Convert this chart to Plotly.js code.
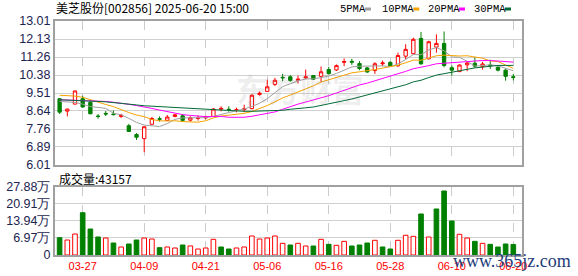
<!DOCTYPE html>
<html><head><meta charset="utf-8">
<script src="https://cdn.plot.ly/plotly-3.0.1.min.js"></script>
<style>html,body{margin:0;padding:0;background:#fff}#c{width:578px;height:276px}</style>
</head><body><div id="c"></div>
<script>
const dates = ["03-24","03-25","03-26","03-27","03-28","03-31","04-01","04-02","04-03","04-07","04-08","04-09","04-10","04-11","04-14","04-15","04-16","04-17","04-18","04-21","04-22","04-23","04-24","04-25","04-28","04-29","04-30","05-06","05-07","05-08","05-09","05-12","05-13","05-14","05-15","05-16","05-19","05-20","05-21","05-22","05-23","05-26","05-27","05-28","05-29","05-30","06-03","06-04","06-05","06-06","06-09","06-10","06-11","06-12","06-13","06-16","06-17","06-18","06-19","06-20"];
const openP = [9.23,8.63,8.97,9.23,9.05,8.39,8.52,8.49,8.37,7.92,7.49,7.29,7.99,8.26,8.18,8.37,8.40,8.19,8.27,8.30,8.37,8.72,8.72,8.67,8.70,8.75,9.44,9.59,9.93,10.27,10.30,10.13,10.25,10.36,10.32,10.65,10.63,11.00,11.05,10.94,10.73,10.60,10.93,11.00,10.83,11.30,11.42,12.16,11.17,11.74,11.92,10.74,10.55,10.88,10.96,10.79,10.87,10.76,10.62,10.30];
const highP = [9.27,8.74,9.62,9.38,9.15,8.49,8.63,8.66,8.50,8.01,7.56,7.88,8.35,8.37,8.44,8.49,8.49,8.38,8.42,8.40,8.78,8.86,8.86,8.80,8.94,9.45,9.58,10.16,10.24,10.44,10.38,10.36,10.65,10.38,10.80,10.78,10.90,11.19,11.17,11.06,10.78,11.01,11.09,11.05,11.47,11.88,12.20,12.48,12.05,12.36,12.50,10.85,10.90,11.04,11.25,11.03,11.13,10.82,10.68,10.44];
const lowP = [8.49,8.37,8.96,8.79,8.48,8.26,8.39,8.42,8.30,7.63,7.23,6.63,7.97,8.12,8.16,8.33,8.11,8.12,8.17,8.23,8.36,8.62,8.60,8.57,8.58,8.72,9.38,9.57,9.85,10.08,10.06,9.97,10.18,10.15,10.05,10.40,10.58,10.81,10.88,10.62,10.49,10.44,10.82,10.80,10.78,11.15,11.38,10.88,11.15,11.47,10.76,10.35,10.53,10.57,10.73,10.65,10.68,10.56,10.11,10.12];
const closeP = [8.58,8.73,9.61,8.83,8.50,8.37,8.49,8.46,8.43,7.64,7.36,7.87,8.27,8.24,8.34,8.45,8.18,8.31,8.29,8.34,8.73,8.76,8.70,8.70,8.74,9.40,9.50,9.81,10.13,10.25,10.12,10.18,10.29,10.18,10.54,10.45,10.84,11.04,11.01,10.70,10.53,10.93,10.97,10.84,11.33,11.63,12.12,10.93,12.00,11.92,10.85,10.62,10.87,10.97,10.81,10.92,10.84,10.62,10.32,10.27];
const volume = [70600,61200,85700,172700,106000,73500,69400,49000,32700,44900,61200,69400,65300,29900,32700,28600,40800,37000,24500,28600,64000,32700,24500,28600,32700,77600,65300,69400,77600,47600,40800,47600,36700,36700,64000,43500,39500,55800,36700,40800,49000,60000,32700,24500,60000,80400,76200,167400,73500,187800,261300,138800,84400,69400,55800,47600,43500,32700,44900,43157];
const volUp = [0,1,1,0,0,0,1,0,1,0,0,1,1,0,1,1,0,1,1,1,1,0,0,1,1,1,1,1,1,1,0,1,1,0,1,0,1,1,0,0,0,1,0,0,1,1,1,0,1,0,0,0,1,1,0,1,0,0,0,0];
const ma5 = [9.10,9.07,9.05,8.97,8.85,8.81,8.76,8.53,8.45,8.28,8.08,7.95,7.91,7.88,8.02,8.23,8.30,8.30,8.31,8.31,8.37,8.48,8.56,8.65,8.73,8.86,9.01,9.23,9.52,9.82,9.96,10.10,10.19,10.20,10.26,10.33,10.46,10.61,10.78,10.81,10.82,10.84,10.83,10.79,10.92,11.14,11.38,11.37,11.60,11.72,11.56,11.26,11.25,11.05,10.82,10.84,10.88,10.83,10.70,10.59];
const ma10 = [9.40,9.38,9.36,9.30,9.18,9.05,8.95,8.85,8.70,8.56,8.44,8.36,8.22,8.16,8.15,8.16,8.12,8.11,8.09,8.16,8.30,8.39,8.43,8.48,8.52,8.61,8.75,8.90,9.08,9.27,9.41,9.55,9.71,9.86,10.04,10.15,10.28,10.40,10.49,10.54,10.58,10.65,10.72,10.79,10.86,10.98,11.11,11.10,11.20,11.32,11.35,11.32,11.31,11.32,11.27,11.20,11.07,11.04,10.87,10.71];
const ma20 = [9.18,9.17,9.16,9.16,9.15,9.14,9.10,9.06,9.02,8.96,8.90,8.84,8.76,8.68,8.60,8.52,8.46,8.42,8.38,8.36,8.37,8.37,8.33,8.32,8.33,8.38,8.44,8.50,8.59,8.72,8.86,8.97,9.07,9.17,9.28,9.38,9.51,9.65,9.79,9.90,9.99,10.10,10.22,10.32,10.45,10.56,10.69,10.75,10.84,10.93,10.96,10.99,11.02,11.05,11.07,11.09,11.09,11.07,11.04,11.01];
const ma30 = [9.18,9.17,9.16,9.14,9.12,9.10,9.08,9.05,9.01,8.97,8.93,8.89,8.87,8.84,8.82,8.80,8.78,8.76,8.74,8.72,8.68,8.65,8.63,8.62,8.62,8.62,8.63,8.64,8.66,8.67,8.72,8.77,8.79,8.83,8.90,8.97,9.05,9.14,9.22,9.32,9.43,9.53,9.62,9.71,9.81,9.91,10.05,10.13,10.26,10.38,10.45,10.51,10.58,10.66,10.73,10.78,10.82,10.85,10.85,10.85];
const tickDates = ["03-27","04-09","04-21","05-06","05-16","05-28","06-10","06-20"];
const priceTicks = [6.01,6.89,7.76,8.64,9.51,10.38,11.26,12.13,13.01];
const volTicks = [0,69700,139400,209100,278800];
const volTickText = ["0","6.97万","13.94万","20.91万","27.88万"];
const maNames = ["5PMA","10PMA","20PMA","30PMA"];
const maColors = ["#a0a0a0","#f5a300","#ff00ff","#006b35"];

const RED = "#ff0000", GREEN = "#008000";
const W = 578, H = 276, ML = 55, MR = 56, MT = 21, MB = 21;
const PW = W - ML - MR, PH = H - MT - MB;
const px = X => (X - ML) / PW;
const py = Y => (H - MB - Y) / PH;

const traces = [];
traces.push({
  type: "candlestick", x: dates, open: openP, high: highP, low: lowP, close: closeP,
  xaxis: "x", yaxis: "y",
  increasing: {line: {color: RED, width: 1}, fillcolor: "#ffffff"},
  decreasing: {line: {color: GREEN, width: 1}, fillcolor: GREEN},
  whiskerwidth: 0, hoverinfo: "skip"
});
[ma5, ma10, ma20, ma30].forEach((m, k) => traces.push({
  type: "scatter", mode: "lines", x: dates, y: m, xaxis: "x", yaxis: "y",
  line: {color: maColors[k], width: 1}, hoverinfo: "skip"
}));
traces.push({
  type: "bar", x: dates, y: volume, xaxis: "x", yaxis: "y2", width: 0.6,
  marker: {color: volUp.map(u => u ? "#ffffff" : GREEN),
           line: {color: volUp.map(u => u ? RED : GREEN), width: 1}},
  hoverinfo: "skip"
});

const tickFont = {family: "Liberation Sans, Arial, sans-serif", size: 12.5, color: "#1c2450"};
const annotations = [];
const shapes = [];
const legX = [338.3, 380, 425.7, 471.7];
const sqX = [365, 413.3, 459, 505];
maNames.forEach((n, k) => {
  annotations.push({xref: "paper", yref: "paper", x: px(legX[k]), y: py(9), xanchor: "left", yanchor: "middle",
    text: n, showarrow: false, font: {family: "Liberation Mono, monospace", size: 10.5, color: "#000"}});
  shapes.push({type: "rect", xref: "paper", yref: "paper", x0: px(sqX[k]), x1: px(sqX[k] + 6),
    y0: py(10.5), y1: py(7.5), fillcolor: maColors[k], line: {width: 0}});
});
annotations.push({xref: "paper", yref: "paper", x: px(57), y: py(178), xanchor: "left", yanchor: "middle",
  text: "成交量:" + volume[volume.length - 1], showarrow: false,
  font: {family: "Noto Sans CJK SC, sans-serif", size: 12, color: "#000"}});
annotations.push({xref: "paper", yref: "paper", x: px(300), y: py(88), xanchor: "center", yanchor: "middle",
  text: "东方财富", showarrow: false,
  font: {family: "Noto Sans CJK SC, sans-serif", size: 32, color: "rgba(120,120,120,0.13)", weight: 700}});
annotations.push({xref: "paper", yref: "paper", x: px(512), y: py(261), xanchor: "center", yanchor: "middle",
  text: "www.365jz.com", showarrow: false,
  font: {family: "Liberation Serif, serif", size: 18, color: "#1f3c78"}});

const layout = {
  width: W, height: H, margin: {l: ML, r: MR, t: MT, b: MB, pad: 0},
  paper_bgcolor: "#ffffff", plot_bgcolor: "#ffffff", showlegend: false,
  boxgap: 0.38, bargap: 0.4,
  title: {text: "美芝股份[002856] 2025-06-20 15:00", xref: "container", yref: "container",
    x: 56 / W, xanchor: "left", y: 1 - 9 / H, yanchor: "middle",
    font: {family: "Noto Sans CJK SC, sans-serif", size: 12, color: "#000"}},
  xaxis: {type: "category", range: [-0.6, 60.13], anchor: "y2",
    tickmode: "array", tickvals: tickDates, ticktext: tickDates, ticks: "",
    showgrid: true, gridcolor: "#cccccc", griddash: "dash", gridwidth: 1,
    showline: true, linecolor: "#a0a0a0", linewidth: 2, mirror: "all", zeroline: false,
    tickfont: {family: "Liberation Sans, Arial, sans-serif", size: 11, color: RED},
    rangeslider: {visible: false}, fixedrange: true},
  yaxis: {domain: [py(165), 1], range: [6.01, 13.01], tickmode: "array", tickvals: priceTicks,
    ticktext: priceTicks.map(v => v.toFixed(2)), ticks: "", showgrid: true, gridcolor: "#d0d0d0", gridwidth: 1,
    showline: true, linecolor: "#a0a0a0", linewidth: 2, mirror: "all", zeroline: false,
    tickfont: tickFont, fixedrange: true},
  yaxis2: {domain: [0, py(186.7)], range: [0, 278800], tickmode: "array", tickvals: volTicks,
    ticktext: volTickText, ticks: "", showgrid: true, gridcolor: "#d0d0d0", gridwidth: 1,
    showline: true, linecolor: "#a0a0a0", linewidth: 2, mirror: "all", zeroline: false,
    tickfont: tickFont, fixedrange: true},
  annotations: annotations, shapes: shapes
};
Plotly.newPlot("c", traces, layout, {staticPlot: true, displayModeBar: false});
</script></body></html>
